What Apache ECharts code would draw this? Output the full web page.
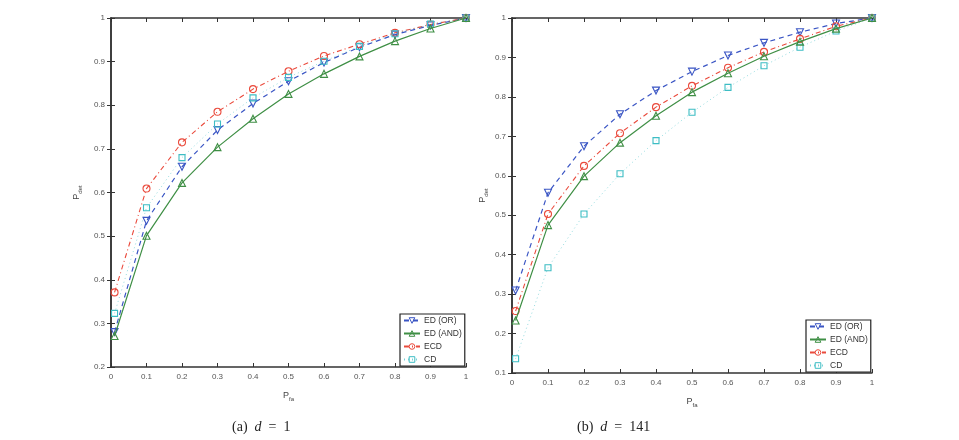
<!DOCTYPE html>
<html>
<head>
<meta charset="utf-8">
<script src="https://cdn.jsdelivr.net/npm/echarts@6/dist/echarts.min.js"></script>
<style>
html, body { margin: 0; padding: 0; background: #fff; }
#chart { width: 959px; height: 440px; }
</style>
</head>
<body>
<div id="chart"></div>
<script>
// P_fa values (shared by both panels)
const pfa = [0.01, 0.1, 0.2, 0.3, 0.4, 0.5, 0.6, 0.7, 0.8, 0.9, 1.0];

// (a) d = 1
const aOr  = [0.280, 0.535, 0.659, 0.743, 0.804, 0.855, 0.898, 0.933, 0.962, 0.983, 1.0];
const aAnd = [0.271, 0.501, 0.622, 0.704, 0.769, 0.826, 0.872, 0.912, 0.947, 0.976, 1.0];
const aEcd = [0.371, 0.609, 0.715, 0.785, 0.837, 0.878, 0.913, 0.940, 0.966, 0.985, 1.0];
const aCd  = [0.323, 0.565, 0.680, 0.757, 0.817, 0.864, 0.901, 0.935, 0.964, 0.986, 1.0];

// (b) d = 141
const bOr  = [0.309, 0.557, 0.675, 0.756, 0.816, 0.864, 0.905, 0.937, 0.964, 0.986, 1.0];
const bAnd = [0.233, 0.475, 0.599, 0.684, 0.752, 0.812, 0.860, 0.903, 0.940, 0.973, 1.0];
const bEcd = [0.257, 0.503, 0.625, 0.708, 0.774, 0.828, 0.874, 0.914, 0.947, 0.979, 1.0];
const bCd  = [0.136, 0.367, 0.503, 0.605, 0.689, 0.761, 0.824, 0.879, 0.926, 0.967, 1.0];

const names = ['ED (OR)', 'ED (AND)', 'ECD', 'CD'];

const chart = echarts.init(document.getElementById('chart'));

const font = 'Liberation Sans, Arial, sans-serif';
const axisCol = '#333';
const labelCol = '#555';

const pts = arr => pfa.map((x, i) => [x, arr[i]]);

// series style per curve
const styles = {
    'ED (OR)':  { color: '#3a55c4', symbol: 'triangle', rotate: 180, type: [5, 4], width: 1.2, size: 7 },
    'ED (AND)': { color: '#3f8f45', symbol: 'triangle', rotate: 0, type: 'solid', width: 1.2, size: 7 },
    'ECD':      { color: '#ea4a3c', symbol: 'circle', rotate: 0, type: [5, 3, 1, 3], width: 1.1, size: 7 },
    'CD':       { color: '#3dbdc4', symbol: 'rect', rotate: 0, type: [1, 3], width: 0.8, size: 6 }
};

const makeSeries = (name, arr, idx) => {
    const s = styles[name];
    return {
        name: name,
        type: 'line',
        xAxisIndex: idx * 2,
        yAxisIndex: idx * 2,
        data: pts(arr),
        symbol: s.symbol,
        symbolRotate: s.rotate,
        symbolSize: s.size,
        showAllSymbol: true,
        itemStyle: { color: 'rgba(255,255,255,0)', borderColor: s.color, borderWidth: 1.1 },
        lineStyle: { color: s.color, type: s.type, width: s.width,
            opacity: name === 'CD' ? 0.7 : 1 },
        animation: false,
        z: name === 'ED (AND)' ? 3 : 2
    };
};

const nameRich = {
    p: { fontSize: 9, color: '#444', fontFamily: font },
    s: { fontSize: 6, color: '#444', fontFamily: font, padding: [7, 0, 0, 0] }
};

const xAxisPair = (gridIndex) => ([{
    gridIndex: gridIndex,
    type: 'value', min: 0, max: 1, interval: 0.1,
    name: '{p|P}{s|fa}', nameLocation: 'middle', nameGap: 22,
    nameTextStyle: { rich: nameRich },
    axisLine: { lineStyle: { color: axisCol, width: 1.5 } },
    axisTick: { inside: true, length: 4, lineStyle: { color: axisCol } },
    axisLabel: { fontSize: 8, color: labelCol, fontFamily: font, margin: 6 },
    splitLine: { show: false }
}, {
    gridIndex: gridIndex, position: 'top',
    type: 'value', min: 0, max: 1, interval: 0.1,
    axisLine: { lineStyle: { color: axisCol, width: 1.5 } },
    axisTick: { inside: true, length: 4, lineStyle: { color: axisCol } },
    axisLabel: { show: false },
    splitLine: { show: false }
}]);

const yAxisPair = (gridIndex, min, gap) => ([{
    gridIndex: gridIndex,
    type: 'value', min: min, max: 1, interval: 0.1,
    name: '{p|P}{s|det}', nameLocation: 'middle', nameGap: gap, nameRotate: 90,
    nameTextStyle: { rich: nameRich },
    axisLine: { show: true, lineStyle: { color: axisCol, width: 1.5 } },
    axisTick: { show: true, inside: true, length: 4, lineStyle: { color: axisCol } },
    axisLabel: { fontSize: 8, color: labelCol, fontFamily: font, margin: 6 },
    splitLine: { show: false }
}, {
    gridIndex: gridIndex, position: 'right',
    type: 'value', min: min, max: 1, interval: 0.1,
    axisLine: { show: true, lineStyle: { color: axisCol, width: 1.5 } },
    axisTick: { show: true, inside: true, length: 4, lineStyle: { color: axisCol } },
    axisLabel: { show: false },
    splitLine: { show: false }
}]);

const legendBox = (left, top) => ({
    data: names,
    orient: 'vertical',
    left: left, top: top,
    itemWidth: 16, itemHeight: 7, itemGap: 4,
    padding: [2, 3, 2, 3],
    borderColor: '#222', borderWidth: 1.2, borderRadius: 0,
    backgroundColor: '#fff',
    selectedMode: false,
    itemStyle: { borderWidth: 1 },
    textStyle: { fontSize: 8.5, color: '#333', fontFamily: font, padding: [0, 0, 0, -1] }
});

const capStyle = (text) => ({
    text: text,
    font: '14px "Liberation Serif", "DejaVu Serif", serif',
    fill: '#222',
    rich: { i: { fontStyle: 'italic', fontSize: 14, fontFamily: 'Liberation Serif, serif', fill: '#222' } }
});

chart.setOption({
    backgroundColor: '#fff',
    animation: false,
    grid: [
        { left: 111, top: 18, width: 355, height: 349 },
        { left: 512, top: 18, width: 360, height: 355 }
    ],
    xAxis: [...xAxisPair(0), ...xAxisPair(1)],
    yAxis: [...yAxisPair(0, 0.2, 28), ...yAxisPair(1, 0.1, 23)],
    legend: [legendBox(400, 314), legendBox(806, 320)],
    series: [
        makeSeries('ED (OR)', aOr, 0),
        makeSeries('ED (AND)', aAnd, 0),
        makeSeries('ECD', aEcd, 0),
        makeSeries('CD', aCd, 0),
        makeSeries('ED (OR)', bOr, 1),
        makeSeries('ED (AND)', bAnd, 1),
        makeSeries('ECD', bEcd, 1),
        makeSeries('CD', bCd, 1)
    ],
    graphic: [{
        type: 'text', left: 232, top: 420,
        style: capStyle('(a)  {i|d}\u2002=\u20021')
    }, {
        type: 'text', left: 577, top: 420,
        style: capStyle('(b)  {i|d}\u2002=\u2002141')
    }]
});
</script>
</body>
</html>
